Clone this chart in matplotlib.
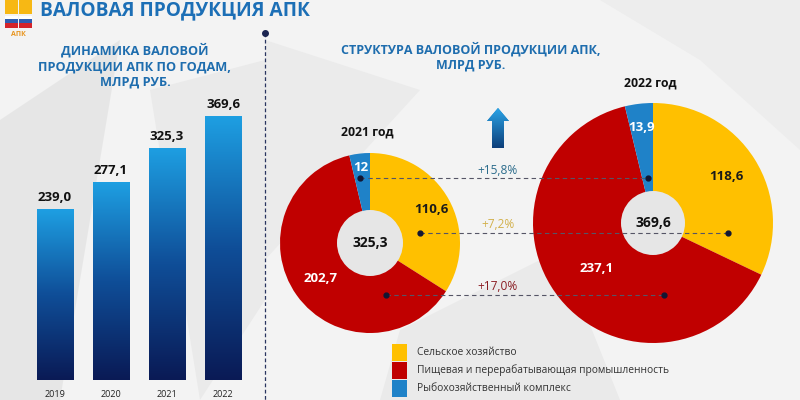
import matplotlib
matplotlib.use('Agg')
import matplotlib.pyplot as plt
import numpy as np
from matplotlib.patches import Circle, Rectangle, Polygon
from matplotlib.colors import LinearSegmentedColormap

# ---------------- data ----------------
years = ['2019', '2020', '2021', '2022']
gross_output = [239.0, 277.1, 325.3, 369.6]
gross_labels = ['239,0', '277,1', '325,3', '369,6']

sectors = ['Сельское хозяйство',
           'Пищевая и перерабатывающая промышленность',
           'Рыбохозяйственный комплекс']
structure_2021 = [110.6, 202.7, 12.0]
structure_2022 = [118.6, 237.1, 13.9]
labels_2021 = ['110,6', '202,7', '12']
labels_2022 = ['118,6', '237,1', '13,9']
total_labels = ['325,3', '369,6']
pie_titles = ['2021 год', '2022 год']
growth_labels = ['+7,2%', '+17,0%', '+15,8%']   # per sector, 2022 vs 2021

# ---------------- style ----------------
FONT = ['Open Sans', 'DejaVu Sans']
plt.rcParams['font.family'] = FONT
sector_colors = ['#FFC000', '#C00000', '#1F82C8']
growth_colors = ['#D2B04A', '#8A1C22', '#2C6C8C']
label_colors = ['#1a1a1a', 'white', 'white']
title_blue = '#1C6FB6'
BG = '#F3F3F3'

fig = plt.figure(figsize=(8, 4), dpi=100, facecolor=BG)

# background / annotation axes in pixel coordinates (y up)
bg = fig.add_axes([0, 0, 1, 1])
bg.set_xlim(0, 800)
bg.set_ylim(0, 400)
bg.axis('off')
bg.set_facecolor(BG)


def Y(py):
    return 400 - py


# subtle faceted background
for pts, c in [([(0, 120), (120, 40), (60, 400), (0, 400)], '#E6E6E6'),
               ([(150, 90), (265, 60), (265, 300), (200, 400)], '#EAEAEA'),
               ([(265, 40), (420, 90), (265, 260)], '#EBEBEB'),
               ([(600, 0), (800, 0), (800, 150), (700, 60)], '#EDEDED'),
               ([(400, 330), (560, 250), (620, 400), (380, 400)], '#EAEAEA')]:
    bg.add_patch(Polygon([(x, Y(y)) for x, y in pts], closed=True,
                         facecolor=c, edgecolor='none', zorder=0))

# logo
for x0 in (5, 19):
    bg.add_patch(Rectangle((x0, Y(14)), 13, 14, facecolor='#F7B814', edgecolor='none', zorder=1))
    bg.add_patch(Rectangle((x0, Y(19)), 13, 3, facecolor='white', edgecolor='none', zorder=1))
    bg.add_patch(Rectangle((x0, Y(23)), 13, 4, facecolor='#2D5DB0', edgecolor='none', zorder=1))
    bg.add_patch(Rectangle((x0, Y(28)), 13, 5, facecolor='#D3232A', edgecolor='none', zorder=1))
bg.text(18.5, Y(34), 'АПК', fontsize=5, color='#E8951E', ha='center', va='center',
        fontweight='bold', zorder=2)

# main title
bg.text(40, Y(15), 'ВАЛОВАЯ ПРОДУКЦИЯ АПК', fontsize=13.8, fontweight='bold',
        color=title_blue, ha='left', va='baseline', zorder=3)

# left subtitle
bg.text(135, Y(66), 'ДИНАМИКА ВАЛОВОЙ\nПРОДУКЦИИ АПК ПО ГОДАМ,\nМЛРД РУБ.', fontsize=9.2,
        fontweight='bold', color='#1E6DAE', ha='center', va='center',
        linespacing=1.25, zorder=3)

# right subtitle
bg.text(471, Y(57), 'СТРУКТУРА ВАЛОВОЙ ПРОДУКЦИИ АПК,\nМЛРД РУБ.', fontsize=9.0,
        fontweight='bold', color='#1E6DAE', ha='center', va='center',
        linespacing=1.2, zorder=3)

# vertical dashed separator with a dot
bg.plot([265, 265], [Y(33), Y(400)], color='#2A3560', lw=0.9, ls=(0, (3, 2)), zorder=2)
bg.plot([265], [Y(33)], 'o', color='#1A2450', ms=4, zorder=3)

# ---------------- bar chart ----------------
bax = fig.add_axes([20 / 800, 20 / 400, 240 / 800, 285.6 / 400])
bax.patch.set_visible(False)
xs = np.arange(len(years))
bars = bax.bar(xs, gross_output, width=0.66, color='none', edgecolor='none', zorder=2)
cmap = LinearSegmentedColormap.from_list('barg', ['#0A1A55', '#0F4E98', '#1E9FE2'])
grad = np.linspace(0, 1, 256).reshape(-1, 1)
for b in bars:
    x0, w, h = b.get_x(), b.get_width(), b.get_height()
    im = bax.imshow(grad, extent=(x0, x0 + w, 0, h), origin='lower', cmap=cmap,
                    aspect='auto', zorder=2)
    im.set_clip_path(b)
for x, v, lab in zip(xs, gross_output, gross_labels):
    bax.text(x, v + 7, lab, ha='center', va='bottom', fontsize=9.5,
             fontweight='bold', color='#111111', zorder=3)
bax.set_xlim(-0.625, 3.661)
bax.set_ylim(0, 400)
bax.set_xticks(xs, years)
bax.set_yticks([])
bax.tick_params(axis='x', length=0, pad=7, labelsize=6.5, labelcolor='#222222')
for s in bax.spines.values():
    s.set_visible(False)

# ---------------- donuts ----------------
donuts = [
    dict(vals=structure_2021, labels=labels_2021, total=total_labels[0], title=pie_titles[0],
         cx=370, cy=243, r=90, rin=33, dist=[0.78, 0.68, 0.85], title_y=132),
    dict(vals=structure_2022, labels=labels_2022, total=total_labels[1], title=pie_titles[1],
         cx=653, cy=223, r=120, rin=32, dist=[0.72, 0.6, 0.8], title_y=83),
]
for d in donuts:
    wedges, _ = bg.pie(d['vals'], colors=sector_colors, startangle=90, counterclock=False,
                       radius=d['r'], center=(d['cx'], Y(d['cy'])), frame=True,
                       wedgeprops=dict(edgecolor='none', zorder=2))
    for w in wedges:
        w.set_zorder(2)
    bg.add_patch(Circle((d['cx'], Y(d['cy'])), d['rin'], facecolor='#E6E6E6',
                        edgecolor='none', zorder=3))
    bg.text(d['cx'], Y(d['cy']), d['total'], ha='center', va='center', fontsize=10,
            fontweight='bold', color='#111111', zorder=5)
    for w, lab, dist, lc in zip(wedges, d['labels'], d['dist'], label_colors):
        ang = np.deg2rad((w.theta1 + w.theta2) / 2)
        bg.text(d['cx'] + dist * d['r'] * np.cos(ang), Y(d['cy']) + dist * d['r'] * np.sin(ang),
                lab, ha='center', va='center', fontsize=9.5, fontweight='bold',
                color=lc, zorder=5)
    bg.text(d['cx'] - 3, Y(d['title_y']), d['title'], ha='center', va='center', fontsize=8.8,
            fontweight='bold', color='#111111', zorder=5)

bg.set_xlim(0, 800)
bg.set_ylim(0, 400)
bg.set_aspect('auto')

# connectors between donuts: (y, x_2021, x_2022) per sector
connectors = [(233, 420, 728), (295, 386, 664), (178, 360, 648)]
for (yy, x1, x2), g, gc in zip(connectors, growth_labels, growth_colors):
    bg.plot([x1, x2], [Y(yy), Y(yy)], color='#555566', lw=0.8, ls=(0, (4, 3)), zorder=6)
    bg.plot([x1, x2], [Y(yy), Y(yy)], 'o', color='#111633', ms=3.5, zorder=7)
    bg.text(498, Y(yy - 8), g, ha='center', va='center', fontsize=8.6,
            color=gc, zorder=7)

# up arrow
arrow = Polygon([(498, Y(108)), (509, Y(121)), (504, Y(121)), (504, Y(148)),
                 (492, Y(148)), (492, Y(121)), (487, Y(121))], closed=True,
                facecolor='#1B86C8', edgecolor='none', zorder=4)
bg.add_patch(arrow)
im = bg.imshow(np.linspace(0, 1, 64).reshape(-1, 1), extent=(486, 510, Y(148), Y(108)),
               origin='lower', cmap=LinearSegmentedColormap.from_list('ar', ['#0D3F7A', '#2AA3E6']),
               aspect='auto', zorder=4)
im.set_clip_path(arrow)
bg.set_xlim(0, 800)
bg.set_ylim(0, 400)

# legend
for i, (name, c) in enumerate(zip(sectors, sector_colors)):
    top = 344 + i * 18
    bg.add_patch(Rectangle((392, Y(top + 17)), 15, 17, facecolor=c, edgecolor='none', zorder=5))
    bg.text(417, Y(top + 8.5), name, ha='left', va='center', fontsize=7.4,
            color='#333333', zorder=5)

fig.savefig('out.png', dpi=100, facecolor=BG)
